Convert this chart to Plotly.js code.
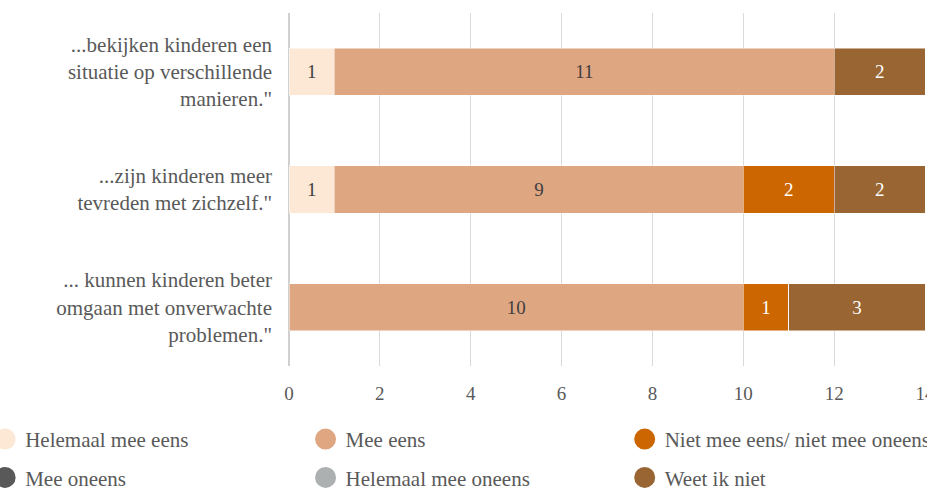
<!DOCTYPE html>
<html>
<head>
<meta charset="utf-8">
<script src="https://cdn.plot.ly/plotly-3.0.1.min.js"></script>
<style>
  html, body { margin: 0; padding: 0; background: #ffffff; }
  #chart { width: 927px; height: 489px; }
</style>
</head>
<body>
<div id="chart"></div>
<script>
// Categories, top to bottom
const categories = [
  '...bekijken kinderen een<br>situatie op verschillende<br>manieren."',
  '...zijn kinderen meer<br>tevreden met zichzelf."',
  '... kunnen kinderen beter<br>omgaan met onverwachte<br>problemen."'
];

// Series values (per category, top to bottom)
const helemaalMeeEens   = [1, 1, 0];
const meeEens           = [11, 9, 10];
const nietMeeEensNiet   = [0, 2, 1];
const meeOneens         = [0, 0, 0];
const helemaalMeeOneens = [0, 0, 0];
const weetIkNiet        = [2, 2, 3];

const seriesNames = [
  'Helemaal mee eens',
  'Mee eens',
  'Niet mee eens/ niet mee oneens',
  'Mee oneens',
  'Helemaal mee oneens',
  'Weet ik niet'
];
const seriesValues = [helemaalMeeEens, meeEens, nietMeeEensNiet, meeOneens, helemaalMeeOneens, weetIkNiet];
const seriesColors = ['#fde8d6', '#dfa682', '#cc6600', '#595959', '#adb0b0', '#996633'];
const labelColors  = ['#404040', '#404040', '#ffffff', '#ffffff', '#404040', '#ffffff'];
const legendIds    = ['legend', 'legend2', 'legend3', 'legend', 'legend2', 'legend3'];

const xTicks = [0, 2, 4, 6, 8, 10, 12, 14];

const FONT = '"Liberation Serif", "DejaVu Serif", serif';

const traces = [];
seriesNames.forEach((name, i) => {
  traces.push({
    type: 'bar',
    orientation: 'h',
    name: name,
    y: categories,
    x: seriesValues[i],
    text: seriesValues[i].map(v => v > 0 ? String(v) : ''),
    textposition: 'inside',
    insidetextanchor: 'middle',
    textangle: 0,
    constraintext: 'none',
    insidetextfont: { family: FONT, size: 19, color: labelColors[i] },
    marker: { color: seriesColors[i], line: { color: 'rgba(255,255,255,0.6)', width: 0.8 } },
    showlegend: false,
    hoverinfo: 'skip'
  });
});
// Legend entries with round markers
seriesNames.forEach((name, i) => {
  traces.push({
    type: 'scatter',
    mode: 'markers',
    name: name,
    x: [null],
    y: [null],
    marker: { symbol: 'circle', size: 16, color: seriesColors[i], line: { color: seriesColors[i], width: 5 } },
    legend: legendIds[i],
    legendgroup: 'g' + i,
    showlegend: true,
    hoverinfo: 'skip'
  });
});

const legendBase = {
  orientation: 'v',
  traceorder: 'grouped',
  tracegroupgap: 8,
  bgcolor: 'rgba(0,0,0,0)',
  borderwidth: 0,
  font: { family: FONT, size: 21, color: '#595959' },
  xanchor: 'left',
  yanchor: 'top',
  y: -0.15
};

const layout = {
  width: 927,
  height: 489,
  margin: { l: 289, r: 1, t: 13, b: 123, autoexpand: false },
  paper_bgcolor: '#ffffff',
  plot_bgcolor: '#ffffff',
  barmode: 'stack',
  bargap: 0.6,
  font: { family: FONT, size: 21, color: '#595959' },
  xaxis: {
    range: [0, 14.02],
    tickvals: xTicks,
    ticktext: xTicks.map(String),
    ticklabeloverflow: 'allow',
    showgrid: true,
    gridcolor: '#d9d9d9',
    gridwidth: 1,
    zeroline: true,
    zerolinecolor: '#d0d0d0',
    zerolinewidth: 2,
    showline: false,
    ticks: '',
    ticklabelstandoff: 14,
    tickfont: { family: FONT, size: 19, color: '#595959' },
    fixedrange: true
  },
  yaxis: {
    type: 'category',
    categoryorder: 'array',
    categoryarray: categories,
    range: [2.5, -0.5],
    showgrid: false,
    zeroline: false,
    showline: false,
    ticks: '',
    ticklabelstandoff: 16,
    tickfont: { family: FONT, size: 21, color: '#595959' },
    fixedrange: true
  },
  legend:  Object.assign({}, legendBase, { x: -0.477 }),
  legend2: Object.assign({}, legendBase, { x: 0.026 }),
  legend3: Object.assign({}, legendBase, { x: 0.527 }),
  hovermode: false
};

Plotly.newPlot('chart', traces, layout, { displayModeBar: false, staticPlot: true });
</script>
</body>
</html>
